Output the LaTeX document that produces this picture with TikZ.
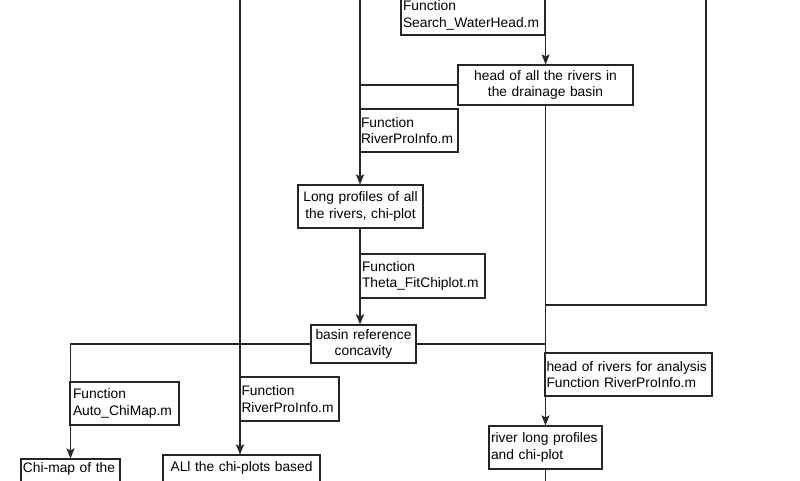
\documentclass[tikz,border=0pt]{standalone}
\usepackage{fontspec}
\setmainfont{Liberation Sans}
\usetikzlibrary{arrows.meta}
\hyphenpenalty=10000
\begin{document}
\begin{tikzpicture}[x=1pt,y=-1pt,
 bx/.style={draw=black!85, line width=1.2pt, inner sep=0pt, fill=white, font=\fontsize{13.8}{16.8}\selectfont},
 ln/.style={draw=black!85, line width=1.2pt},
 arr/.style={ln, -{Stealth[length=10pt,width=8pt,inset=2pt]}}]
\useasboundingbox (0,0) rectangle (800,480);
\clip (0,0) rectangle (800,480);
\fill[white] (0,0) rectangle (800,480);
% coordinates for free ends
\coordinate (t240) at (240,-10);
\coordinate (t360) at (360,-10);
\coordinate (t706) at (706,-10);
\coordinate (b545) at (545.5,490);
\coordinate (rj) at (545.5,305);
% boxes
\node[bx, minimum width=144, minimum height=39, text width=140, align=left] (search) at (473,15.5) {Function\\Search\_WaterHead.m};
\node[bx, minimum width=175, minimum height=40, text width=165, align=center] (head) at (545.5,85) {head of all the rivers in\\ the drainage basin};
\node[bx, minimum width=98, minimum height=43, text width=96, align=left] (rp1) at (409,130.5) {Function\\RiverProInfo.m};
\node[bx, minimum width=125, minimum height=43, text width=119, align=center] (longprof) at (360.5,206.5) {Long profiles of all\\the rivers, chi-plot};
\node[bx, minimum width=125, minimum height=44, text width=121, align=left] (theta) at (422.5,276) {Function\\Theta\_FitChiplot.m};
\node[bx, minimum width=105, minimum height=38, text width=101, align=center] (basin) at (363.5,344) {basin reference\\concavity};
\node[bx, minimum width=109, minimum height=43, text width=103, align=left] (autochi) at (124.5,403.5) {Function\\Auto\_ChiMap.m};
\node[bx, minimum width=99, minimum height=44, text width=96, align=left] (rp2) at (289.5,399) {Function\\RiverProInfo.m};
\node[bx, minimum width=167, minimum height=43, text width=164, align=left] (headana) at (628.5,374.5) {head of rivers for analysis\\Function RiverProInfo.m};
\node[bx, minimum width=99, minimum height=38, text width=95, align=left] (chimap) at (70.5,478) {Chi-map of the\\\strut};
\node[bx, minimum width=157, minimum height=44, text width=153, align=center] (allchi) at (241.5,477) {ALl the chi-plots based\\\strut};
\node[bx, minimum width=113, minimum height=43, text width=109, align=left] (riverlong) at (545.5,447.5) {river long profiles\\and chi-plot};
% connectors
\draw[ln] (t706) |- (rj);
\draw[ln] (head.west) -- (head.west -| t360);
\draw[ln] (basin.east) -- (basin.east -| head.south);
\draw[arr] (t240) -- (t240 |- allchi.north);
\draw[arr] (t360) -- (t360 |- longprof.north);
\draw[arr] (search.south east) -- (search.south east |- head.north);
\draw[arr] (head.south) -- (riverlong.north);
\draw[arr] (longprof.south -| t360) -- (basin.north -| t360);
\draw[arr] (basin.west) -| (chimap.north);
\draw[ln] (riverlong.south) -- (b545);
\end{tikzpicture}
\end{document}
